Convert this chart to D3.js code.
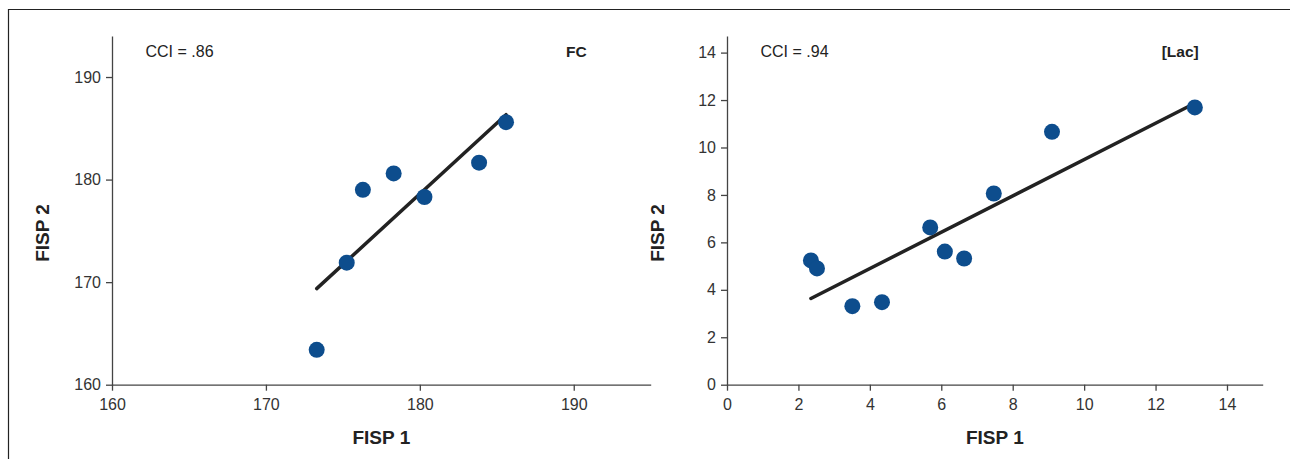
<!DOCTYPE html>
<html>
<head>
<meta charset="utf-8">
<script src="https://cdn.jsdelivr.net/npm/d3@7"></script>
<style>
  body { margin: 0; background: #fff; }
  svg { display: block; font-family: "Liberation Sans", Arial, Helvetica, sans-serif; }
  .axis path, .axis line { stroke: #444; stroke-width: 1.3; }
  .axis text { font-size: 16px; fill: #333; }
</style>
</head>
<body>
<div id="chart"></div>
<script>
// FC panel
var fcFisp1 = [173.3, 175.25, 176.3, 178.3, 180.3, 183.85, 185.6];
var fcFisp2 = [163.4, 171.9, 179.0, 180.6, 178.3, 181.65, 185.6];
var fcTicks = [160, 170, 180, 190];

// [Lac] panel
var lacFisp1 = [2.35, 2.52, 3.51, 4.34, 5.69, 6.10, 6.64, 7.47, 9.10, 13.10];
var lacFisp2 = [5.24, 4.90, 3.31, 3.48, 6.63, 5.61, 5.32, 8.06, 10.66, 11.69];
var lacTicks = [0, 2, 4, 6, 8, 10, 12, 14];

var panels = [
  {name: 'FC', cci: 'CCI = .86', xs: fcFisp1, ys: fcFisp2, ticks: fcTicks,
   xDomain: [160, 195], yDomain: [160, 194], left: 112, right: 650.7},
  {name: '[Lac]', cci: 'CCI = .94', xs: lacFisp1, ys: lacFisp2, ticks: lacTicks,
   xDomain: [0, 15], yDomain: [0, 14.7], left: 727, right: 1262.7}
];

var W = 1290, H = 459, plotTop = 36, plotBottom = 384.7;

var svg = d3.select('#chart').append('svg')
  .attr('width', W)
  .attr('height', H);

// frame
svg.append('path')
  .attr('d', 'M8.5,' + H + 'V9.5H' + W)
  .attr('fill', 'none')
  .attr('stroke', '#222')
  .attr('stroke-width', 1.2);

panels.forEach(function(p){
  var x = d3.scaleLinear().domain(p.xDomain).range([p.left, p.right]);
  var y = d3.scaleLinear().domain(p.yDomain).range([plotBottom, plotTop]);

  var g = svg.append('g');

  g.append('g')
    .attr('class', 'axis')
    .attr('transform', 'translate(0,' + plotBottom + ')')
    .call(d3.axisBottom(x).tickValues(p.ticks).tickSize(6).tickPadding(8).tickSizeOuter(0));

  g.append('g')
    .attr('class', 'axis')
    .attr('transform', 'translate(' + p.left + ',0)')
    .call(d3.axisLeft(y).tickValues(p.ticks).tickSize(6).tickPadding(5).tickSizeOuter(0));

  // least squares line over the data range
  var mx = d3.mean(p.xs), my = d3.mean(p.ys);
  var sxy = d3.sum(p.xs, function(v, i){ return (v - mx) * (p.ys[i] - my); });
  var sxx = d3.sum(p.xs, function(v){ return (v - mx) * (v - mx); });
  var slope = sxy / sxx, icpt = my - slope * mx;
  var ext = d3.extent(p.xs);

  g.append('line')
    .attr('x1', x(ext[0])).attr('y1', y(icpt + slope * ext[0]))
    .attr('x2', x(ext[1])).attr('y2', y(icpt + slope * ext[1]))
    .attr('stroke', '#222')
    .attr('stroke-width', 3.5)
    .attr('stroke-linecap', 'round');

  g.selectAll('circle')
    .data(p.xs)
    .enter().append('circle')
      .attr('cx', function(d){ return x(d); })
      .attr('cy', function(d, i){ return y(p.ys[i]); })
      .attr('r', 8)
      .attr('fill', '#0d4d8d');

  g.append('text')
    .attr('x', p.left + 33.5)
    .attr('y', 57)
    .style('font-size', '16px')
    .style('fill', '#222')
    .text(p.cci);

  g.append('text')
    .attr('x', p.right - 64)
    .attr('y', 57)
    .attr('text-anchor', 'end')
    .style('font-size', '15.5px')
    .style('font-weight', 'bold')
    .style('fill', '#222')
    .text(p.name);

  g.append('text')
    .attr('x', (p.left + p.right) / 2)
    .attr('y', 444)
    .attr('text-anchor', 'middle')
    .style('font-size', '19px')
    .style('font-weight', 'bold')
    .style('fill', '#222')
    .text('FISP 1');

  g.append('text')
    .attr('transform', 'translate(' + (p.left - 63) + ',233) rotate(-90)')
    .attr('text-anchor', 'middle')
    .style('font-size', '19px')
    .style('font-weight', 'bold')
    .style('fill', '#222')
    .text('FISP 2');
});
</script>
</body>
</html>
